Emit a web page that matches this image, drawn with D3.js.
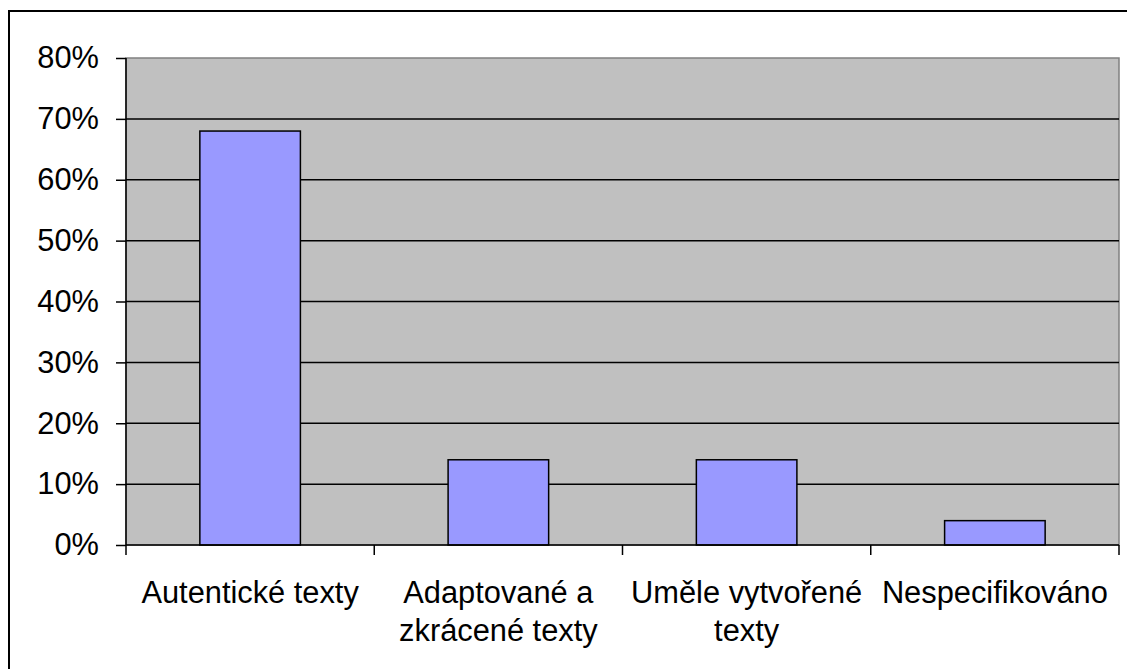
<!DOCTYPE html>
<html>
<head>
<meta charset="utf-8">
<script src="https://cdn.jsdelivr.net/npm/d3@7"></script>
<style>
  body { margin: 0; background: #fff; }
  svg text { font-family: "Liberation Sans", Arial, sans-serif; fill: #000; }
</style>
</head>
<body>
<div id="chart"></div>
<script>
// data
const categories = ["Autentické texty", "Adaptované a zkrácené texty", "Uměle vytvořené texty", "Nespecifikováno"];
const shares = [0.68, 0.14, 0.14, 0.04];
const yTicks = [0, 0.1, 0.2, 0.3, 0.4, 0.5, 0.6, 0.7, 0.8];

const W = 1127, H = 669;
const margin = { top: 58, right: 8, bottom: 124, left: 126 };
const width = W - margin.left - margin.right;
const height = H - margin.top - margin.bottom;
const fontSize = "30.8px";

const svg = d3.select("#chart").append("svg")
    .attr("width", W)
    .attr("height", H);

// outer frame (runs off the right and bottom edges)
svg.append("rect")
    .attr("x", 9).attr("y", 11)
    .attr("width", W + 20).attr("height", H + 20)
    .attr("fill", "none")
    .attr("stroke", "#000")
    .attr("stroke-width", 2);

const g = svg.append("g")
    .attr("transform", "translate(" + margin.left + "," + margin.top + ")");

const x = d3.scaleBand().domain(categories).range([0, width]).padding(0);
const y = d3.scaleLinear().domain([0, 0.8]).range([height, 0]);

// plot area
g.append("rect")
    .attr("width", width).attr("height", height)
    .attr("fill", "#c0c0c0")
    .attr("stroke", "#808080")
    .attr("stroke-width", 1.5);

// gridlines
g.selectAll(".grid").data(yTicks.filter(d => d > 0 && d < 0.8))
    .enter().append("line")
    .attr("x1", 0).attr("x2", width)
    .attr("y1", d => y(d)).attr("y2", d => y(d))
    .attr("stroke", "#000")
    .attr("stroke-width", 1.5);

// bars
const barW = x.bandwidth() * 0.405;
g.selectAll(".bar").data(shares)
    .enter().append("rect")
    .attr("class", "bar")
    .attr("x", (d, i) => x(categories[i]) + (x.bandwidth() - barW) / 2)
    .attr("y", d => y(d))
    .attr("width", barW)
    .attr("height", d => height - y(d))
    .attr("fill", "#9999ff")
    .attr("stroke", "#000")
    .attr("stroke-width", 1.5);

// y axis
const yAxis = g.append("g")
    .call(d3.axisLeft(y).tickValues(yTicks).tickFormat(d3.format(".0%")).tickSize(10).tickPadding(17));
yAxis.selectAll("line, path").attr("stroke", "#000").attr("stroke-width", 1.5);
yAxis.select(".domain").attr("d", "M0," + y(0.8) + "V" + height);
yAxis.selectAll("text").style("font-size", fontSize);

// x axis: ticks at band boundaries
const xAxis = g.append("g")
    .attr("transform", "translate(0," + height + ")");
xAxis.append("line")
    .attr("x1", 0).attr("x2", width)
    .attr("stroke", "#000").attr("stroke-width", 1.5);
const bounds = categories.map(c => x(c)).concat([width]);
xAxis.selectAll(".xtick").data(bounds)
    .enter().append("line")
    .attr("x1", d => d).attr("x2", d => d)
    .attr("y1", 0).attr("y2", 10)
    .attr("stroke", "#000").attr("stroke-width", 1.5);

const labels = xAxis.selectAll(".xlabel").data(categories)
    .enter().append("text")
    .attr("class", "xlabel")
    .attr("x", d => x(d) + x.bandwidth() / 2)
    .attr("y", 58)
    .attr("text-anchor", "middle")
    .style("font-size", fontSize)
    .text(d => d);

// wrap labels to the category width
labels.each(function(d) {
    const t = d3.select(this);
    const words = d.split(" ");
    const cx = t.attr("x");
    t.text(null);
    let line = [];
    let tspan = t.append("tspan").attr("x", cx).attr("dy", 0);
    words.forEach(w => {
        line.push(w);
        tspan.text(line.join(" "));
        if (tspan.node().getComputedTextLength() > x.bandwidth() - 4 && line.length > 1) {
            line.pop();
            tspan.text(line.join(" "));
            line = [w];
            tspan = t.append("tspan").attr("x", cx).attr("dy", 38).text(w);
        }
    });
});
</script>
</body>
</html>
